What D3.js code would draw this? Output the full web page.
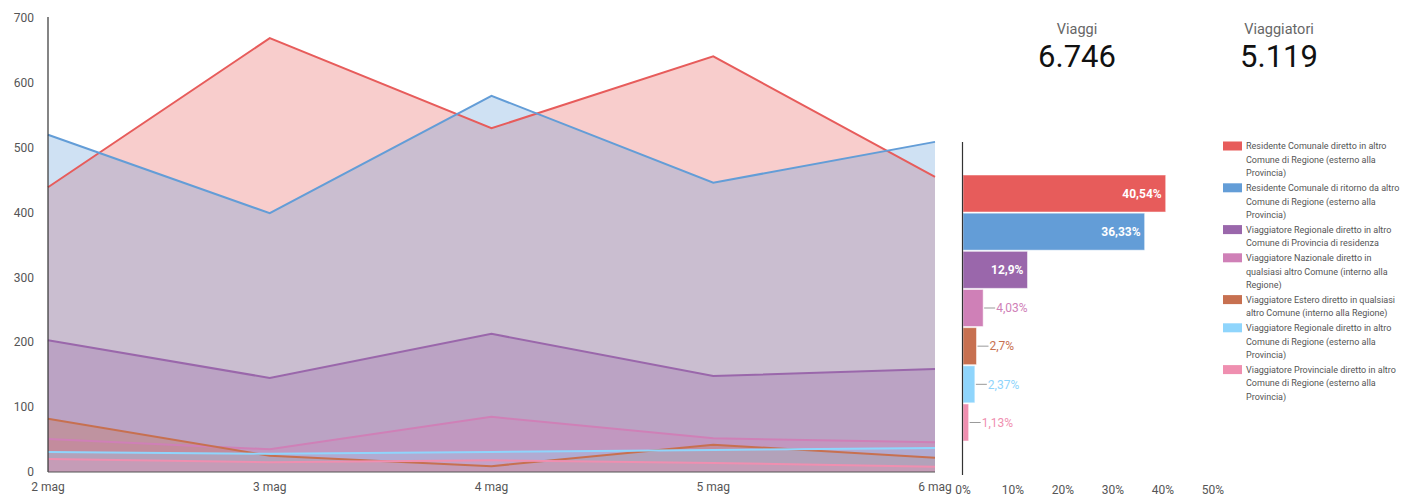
<!DOCTYPE html>
<html><head><meta charset="utf-8">
<script src="https://cdn.jsdelivr.net/npm/d3@7"></script>
<style>body{margin:0;background:#fff;font-family:Roboto,"Noto Sans",sans-serif}</style>
</head><body><svg id="c" width="1404" height="496"></svg>
<script>
const dates = ["2 mag","3 mag","4 mag","5 mag","6 mag"];
const seriesNames = [
 "Residente Comunale diretto in altro Comune di Regione (esterno alla Provincia)",
 "Residente Comunale di ritorno da altro Comune di Regione (esterno alla Provincia)",
 "Viaggiatore Regionale diretto in altro Comune di Provincia di residenza",
 "Viaggiatore Nazionale diretto in qualsiasi altro Comune (interno alla Regione)",
 "Viaggiatore Estero diretto in qualsiasi altro Comune (interno alla Regione)",
 "Viaggiatore Regionale diretto in altro Comune di Regione (esterno alla Provincia)",
 "Viaggiatore Provinciale diretto in altro Comune di Regione (esterno alla Provincia)"
];
const legendLines = [
 ["Residente Comunale diretto in altro","Comune di Regione (esterno alla","Provincia)"],
 ["Residente Comunale di ritorno da altro","Comune di Regione (esterno alla","Provincia)"],
 ["Viaggiatore Regionale diretto in altro","Comune di Provincia di residenza"],
 ["Viaggiatore Nazionale diretto in","qualsiasi altro Comune (interno alla","Regione)"],
 ["Viaggiatore Estero diretto in qualsiasi","altro Comune (interno alla Regione)"],
 ["Viaggiatore Regionale diretto in altro","Comune di Regione (esterno alla","Provincia)"],
 ["Viaggiatore Provinciale diretto in altro","Comune di Regione (esterno alla","Provincia)"]
];
const colors = ["#e75c5b","#639dd7","#9a67ab","#cf80b7","#c77050","#8fd5fc","#ef8fb0"];
const residenteDiretto = [439,669,530,641,455];
const residenteRitorno = [520,399,580,446,509];
const regionaleProvincia = [203,145,213,148,159];
const nazionale = [51,35,85,52,46];
const estero = [82,25,9,42,22];
const regionaleRegione = [31,28,31,34,37];
const provinciale = [20,15,18,14,8];
const seriesValues = [residenteDiretto,residenteRitorno,regionaleProvincia,nazionale,estero,regionaleRegione,provinciale];
const sharePct = [40.54,36.33,12.9,4.03,2.7,2.37,1.13];
const shareLabels = ["40,54%","36,33%","12,9%","4,03%","2,7%","2,37%","1,13%"];
const yTicks = [0,100,200,300,400,500,600,700];
const pctTicks = [0,10,20,30,40,50];
const kpis = [{label:"Viaggi", value:"6.746"},{label:"Viaggiatori", value:"5.119"}];

const svg = d3.select("#c");
const x = d3.scalePoint().domain(dates).range([48,935]);
const y = d3.scaleLinear().domain([0,700]).range([472,18]);

svg.append("g").selectAll("text").data(yTicks).join("text")
  .attr("x",34).attr("y",d=>y(d)).attr("dy","0.35em").attr("text-anchor","end")
  .attr("font-size",12).attr("fill","#555").text(d=>d);
svg.append("g").selectAll("text").data(dates).join("text")
  .attr("x",d=>x(d)).attr("y",491).attr("text-anchor","middle")
  .attr("font-size",12).attr("fill","#555").text(d=>d);

const area = d3.area().x((d,i)=>x(dates[i])).y0(y(0)).y1(d=>y(d));
const line = d3.line().x((d,i)=>x(dates[i])).y(d=>y(d));
const g = svg.append("g");
seriesValues.forEach((vals,k)=>{
  g.append("path").attr("d",area(vals)).attr("fill",colors[k]).attr("fill-opacity",0.31);
});
seriesValues.forEach((vals,k)=>{
  g.append("path").attr("d",line(vals)).attr("fill","none").attr("stroke",colors[k]).attr("stroke-width",2);
});
svg.append("line").attr("x1",48).attr("x2",48).attr("y1",17).attr("y2",472).attr("stroke","#333").attr("stroke-width",1.2);
svg.append("line").attr("x1",48).attr("x2",935).attr("y1",472).attr("y2",472).attr("stroke","#555").attr("stroke-width",1);

const xb = d3.scaleLinear().domain([0,50]).range([963,1213]);
const yb = d3.scaleBand().domain(seriesNames).range([175,441]).paddingInner(0.03);
svg.append("g").selectAll("text").data(pctTicks).join("text")
  .attr("x",d=>xb(d)).attr("y",494).attr("text-anchor","middle")
  .attr("font-size",12).attr("fill","#555").text(d=>d+"%");
const bars = svg.append("g");
seriesNames.forEach((n,i)=>{
  const x1 = xb(sharePct[i]);
  bars.append("rect").attr("x",xb(0)).attr("y",yb(n)).attr("width",x1-xb(0)).attr("height",yb.bandwidth())
    .attr("fill",colors[i]).attr("stroke","#fff").attr("stroke-opacity",0.5).attr("stroke-width",1);
  const cy = yb(n)+yb.bandwidth()/2;
  if (sharePct[i] > 10) {
    bars.append("text").attr("x",x1-4).attr("y",cy).attr("dy","0.35em").attr("text-anchor","end")
      .attr("font-size",12).attr("font-weight","bold").attr("fill","#fff").text(shareLabels[i]);
  } else {
    bars.append("line").attr("x1",x1+1).attr("x2",x1+12).attr("y1",cy).attr("y2",cy).attr("stroke","#999").attr("stroke-width",1);
    bars.append("text").attr("x",x1+13).attr("y",cy).attr("dy","0.35em")
      .attr("font-size",12).attr("fill",colors[i]).text(shareLabels[i]);
  }
});
svg.append("line").attr("x1",962.5).attr("x2",962.5).attr("y1",142).attr("y2",475).attr("stroke","#333").attr("stroke-width",1.2);

const leg = svg.append("g");
let ly = 141.5;
legendLines.forEach((lines,i)=>{
  leg.append("rect").attr("x",1223).attr("y",ly).attr("width",19).attr("height",9).attr("fill",colors[i]);
  lines.forEach((t,j)=>{
    leg.append("text").attr("x",1246).attr("y",ly+4.5+j*13.6).attr("dy","0.35em")
      .attr("font-size",9).attr("fill","#555").text(t);
  });
  ly += lines.length*13.6 + 1;
});

const kx = [1077,1279];
kpis.forEach((k,i)=>{
  svg.append("text").attr("x",kx[i]).attr("y",34).attr("text-anchor","middle")
    .attr("font-size",14.5).attr("fill","#666").text(k.label);
  svg.append("text").attr("x",kx[i]).attr("y",67).attr("text-anchor","middle")
    .attr("font-size",31).attr("fill","#111").text(k.value);
});
</script></body></html>
